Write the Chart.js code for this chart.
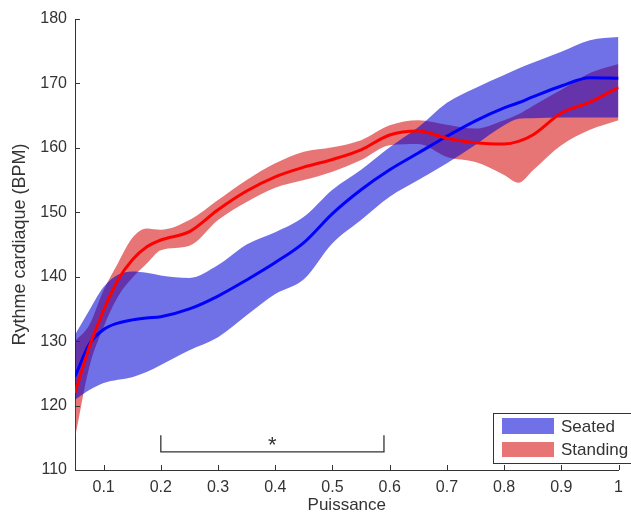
<!DOCTYPE html>
<html>
<head>
<meta charset="utf-8">
<script src="https://cdn.jsdelivr.net/npm/chart.js@4.4.1/dist/chart.umd.min.js"></script>
<style>
  html, body { margin: 0; padding: 0; background: #fff; }
  #wrap { width: 631px; height: 516px; }
</style>
</head>
<body>
<div id="wrap"><canvas id="hrChart" width="631" height="516"></canvas></div>
<script>
// Puissance (x) values shared by every series
const puissance = [0.05, 0.075, 0.1, 0.125, 0.15, 0.175, 0.2, 0.25, 0.3, 0.35, 0.4, 0.45, 0.5, 0.55, 0.6, 0.65, 0.7, 0.75, 0.8, 0.825, 0.85, 0.9, 0.95, 1.0];

// Seated : mean and band
const seatedMean  = [124.5, 129.5, 131.8, 132.8, 133.3, 133.6, 133.8, 135.0, 137.0, 139.5, 142.2, 145.3, 149.8, 153.5, 156.6, 159.2, 161.8, 164.2, 166.2, 167.0, 167.9, 169.6, 170.9, 170.8];
const seatedUpper = [131.0, 134.8, 138.4, 140.3, 140.8, 140.6, 140.2, 139.8, 141.8, 145.0, 146.9, 149.3, 153.5, 156.6, 160.1, 163.2, 167.0, 169.3, 171.3, 172.3, 173.2, 174.9, 176.7, 177.2];
const seatedLower = [120.9, 122.4, 123.5, 124.0, 124.4, 125.2, 126.3, 128.6, 130.6, 134.0, 137.3, 139.6, 145.2, 148.8, 152.4, 155.0, 157.6, 160.5, 163.5, 164.5, 164.6, 164.7, 164.7, 164.7];

// Standing : mean and band
const standingMean  = [122.0, 129.1, 134.8, 139.5, 142.6, 144.6, 145.7, 147.0, 150.4, 153.3, 155.5, 157.0, 158.2, 159.7, 162.0, 162.6, 161.5, 160.8, 160.6, 161.0, 162.0, 165.4, 167.1, 169.4];
const standingUpper = [130.0, 132.5, 137.9, 142.1, 146.0, 147.5, 147.3, 148.8, 151.9, 155.0, 157.6, 159.4, 160.1, 161.2, 163.5, 164.3, 163.6, 163.0, 164.3, 165.2, 166.5, 169.0, 171.6, 173.0];
const standingLower = [115.0, 126.0, 132.2, 136.9, 139.8, 142.0, 144.1, 144.8, 148.8, 151.6, 153.8, 155.0, 156.3, 158.1, 160.4, 160.6, 158.6, 157.8, 155.8, 154.6, 156.5, 160.4, 162.8, 164.3];

// significance bracket
const bracketX = [0.2, 0.2, 0.59, 0.59];
const bracketY = [115.4, 112.8, 112.8, 115.4];
const starX = 0.395;
const starY = 114.3;

// axes
const xTicks = [0.1, 0.2, 0.3, 0.4, 0.5, 0.6, 0.7, 0.8, 0.9, 1];
const yTicks = [110, 120, 130, 140, 150, 160, 170, 180];

const blueBand = 'rgba(0, 0, 213, 0.56)';
const redBand = 'rgba(213, 18, 18, 0.58)';
const inkColor = '#333';
const fontFamily = '"Liberation Sans", Arial, sans-serif';

const pts = (ys) => puissance.map((x, i) => ({ x: x, y: ys[i] }));

// draws the inward tick marks, the star and the legend box
const extras = {
  id: 'extras',
  afterDraw(chart) {
    const c = chart.ctx;
    const xs = chart.scales.x, ys = chart.scales.y;
    const area = chart.chartArea;
    c.save();
    c.strokeStyle = inkColor;
    c.lineWidth = 1;
    c.beginPath();
    yTicks.forEach(v => {
      const p = Math.round(ys.getPixelForValue(v)) + 0.5;
      c.moveTo(area.left, p); c.lineTo(area.left + 5, p);
    });
    xTicks.forEach(v => {
      const p = Math.round(xs.getPixelForValue(v)) + 0.5;
      c.moveTo(p, area.bottom); c.lineTo(p, area.bottom - 5);
    });
    c.stroke();

    c.fillStyle = inkColor;
    c.font = '22px ' + fontFamily;
    c.textAlign = 'center';
    c.textBaseline = 'middle';
    c.fillText('*', xs.getPixelForValue(starX), ys.getPixelForValue(starY) + 4);

    // legend
    c.fillStyle = '#fff';
    c.fillRect(493.5, 413.5, 150, 50);
    c.strokeRect(493.5, 413.5, 150, 50);
    c.fillStyle = blueBand;
    c.fillRect(502, 418, 52, 16);
    c.fillStyle = redBand;
    c.fillRect(502, 442, 52, 15);
    c.fillStyle = inkColor;
    c.font = '17px ' + fontFamily;
    c.textAlign = 'left';
    c.fillText('Seated', 561, 427);
    c.fillText('Standing', 561, 450);
    c.restore();
  }
};

const band = (data, color, fill) => ({
  data: data, borderWidth: 0, borderColor: 'rgba(0,0,0,0)', pointRadius: 0,
  cubicInterpolationMode: 'monotone', backgroundColor: color, fill: fill
});

const ctx = document.getElementById('hrChart');

const hrChart = new Chart(ctx, {
  type: 'line',
  data: {
    datasets: [
      { label: 'Standing', data: pts(standingMean), borderColor: '#ff0000', borderWidth: 3, pointRadius: 0, cubicInterpolationMode: 'monotone', fill: false },
      { label: 'Seated', data: pts(seatedMean), borderColor: '#0000ff', borderWidth: 3, pointRadius: 0, cubicInterpolationMode: 'monotone', fill: false },
      Object.assign({ label: 'Seated upper' }, band(pts(seatedUpper), blueBand, '+1')),
      Object.assign({ label: 'Seated lower' }, band(pts(seatedLower), blueBand, false)),
      Object.assign({ label: 'Standing upper' }, band(pts(standingUpper), redBand, '+1')),
      Object.assign({ label: 'Standing lower' }, band(pts(standingLower), redBand, false)),
      { label: 'bracket', data: bracketX.map((x, i) => ({ x: x, y: bracketY[i] })), borderColor: inkColor, borderWidth: 1.3, pointRadius: 0, tension: 0, fill: false }
    ]
  },
  options: {
    responsive: false,
    animation: false,
    devicePixelRatio: 1,
    layout: { padding: { top: 19, right: 10, left: 0, bottom: 0 } },
    plugins: {
      legend: { display: false },
      tooltip: { enabled: false }
    },
    scales: {
      x: {
        type: 'linear',
        min: 0.05,
        max: 1,
        grid: { display: false, drawTicks: false },
        border: { display: true, color: inkColor, width: 1 },
        afterBuildTicks: (s) => { s.ticks = xTicks.map(v => ({ value: v })); },
        afterFit: (s) => { s.height = 46; },
        ticks: {
          color: inkColor,
          padding: 8,
          maxRotation: 0,
          font: { family: fontFamily, size: 16 },
          callback: (v) => String(v)
        },
        title: {
          display: true,
          text: 'Puissance',
          color: inkColor,
          padding: { top: 0, bottom: 0 },
          font: { family: fontFamily, size: 17 }
        }
      },
      y: {
        min: 110,
        max: 180,
        grid: { display: false, drawTicks: false },
        border: { display: true, color: inkColor, width: 1 },
        afterBuildTicks: (s) => { s.ticks = yTicks.map(v => ({ value: v })); },
        afterFit: (s) => { s.width = 75; },
        ticks: {
          color: inkColor,
          padding: 8,
          font: { family: fontFamily, size: 16 }
        },
        title: {
          display: true,
          text: 'Rythme cardiaque (BPM)',
          color: inkColor,
          padding: { top: 9, bottom: 0 },
          font: { family: fontFamily, size: 18 }
        }
      }
    }
  },
  plugins: [extras]
});
</script>
</body>
</html>
